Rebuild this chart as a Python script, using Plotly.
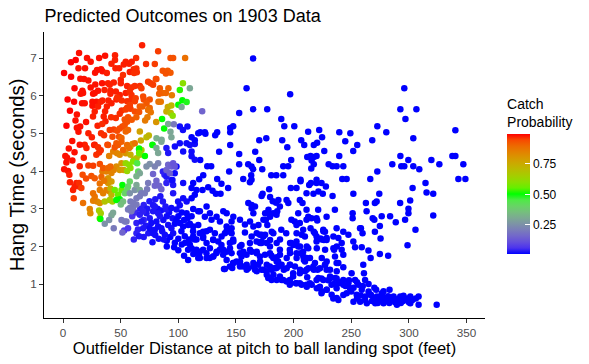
import plotly.graph_objects as go

# ---------------- data ----------------
# high catch-probability points (red / orange-red)
dist_red = [68.6,13.9,82.5,20.8,31.3,36.5,45.1,45.1,63.4,93.2,95.5,105.9,6.9,0.9,13.4,19.1,18.2,27.8,29.5,33,34.2,
            45.5,48.7,52.7,54.4,57.3,59.6,61.3,63.6,57.9,61.6,64.0,72,79.6,86.5,90.8,93.2,89.2,80.5,
            33.9,39,40.5,50.1,50.1,55.6,59.4,62.2,66.6,73.8,76.1,78.1,81,24,30.4,16.8,15.3,17.4,26.1,27.5,41.1,41.1,45.8,49.2,54.4,57.9,59.4,68,84,86.3,89.2,83.4,94.4,91.4,
            9.6,16.5,18.8,25.5,29,32.7,34.2,39.4,42,46.3,50.9,55.6,59.4,63,62.3,69.5,70,75.2,72.4,75.2,82.8,84.8,
            10.8,14.9,13.4,35.3,36.8,41.7,45.8,49.2,50.9,54.4,58.5,62.3,66,55.6,53.5,56.4,59.6,63.6,66.6,68.9,73.8,76.1,73.2,71.2,25.5,30.4,27.5,36.5,38,
            40.5,44,46.9,49.2,51.5,53.5,55.6,42.9,48.6,46.3,35.6,38.5,27.5,18.8,14.5,50.7,54.4,56.4,
            20.3,27,30.4,28.9,31.3,32.7,39.1,44.9,47.8,50.7,55.6,57.3,62.2,52.1,2.9,8.1,4.4,14.5,26.1,31.9,34.8,39.1,41.1,24.6,27.5,33.3,31.9,35.6,11.6,13.9,8.7,10.1,13.9,15.9,9.3,3.5,5.5]
hang_red = [7.34,7.13,7.18,7.0,7.0,7.06,7.07,6.95,7.0,7.0,7.0,7.0,6.89,6.6,6.73,6.73,6.44,6.61,6.68,6.7,6.65,
            6.73,6.73,6.83,6.9,6.85,6.9,6.7,6.72,6.63,6.6,6.62,6.84,6.84,6.66,6.66,6.61,6.59,6.44,
            6.33,6.33,6.29,6.42,6.33,6.26,6.22,6.26,6.26,6.37,6.33,6.29,6.44,6.22,6.13,6.13,6.05,6.07,6.05,6.07,6.13,6.05,6.11,6.02,6.07,6.11,6.02,6.2,6.2,6.07,6.07,6.05,6.01,6.2,
            5.84,5.80,5.80,5.84,5.84,5.84,5.87,5.87,5.80,5.90,5.87,5.85,5.90,5.93,5.85,5.98,5.90,5.90,5.79,5.67,5.84,5.84,
            5.34,5.18,5.04,5.45,5.32,5.43,5.41,5.52,5.61,5.63,5.65,5.58,5.57,5.68,5.37,5.43,5.36,5.43,5.71,5.71,5.62,5.56,5.43,5.34,5.73,5.71,5.58,5.59,5.71,
            5.09,5.1,5.07,5.13,5.18,5.22,5.31,4.91,4.91,4.74,4.95,4.70,4.70,4.70,4.70,4.88,5.05,5.09,
            4.61,4.69,4.63,4.43,4.49,4.55,4.69,4.63,4.69,4.78,4.69,4.61,4.74,4.56,4.23,4.28,4.0,4.13,4.14,4.19,4.08,4.08,4.12,3.87,3.81,3.84,3.67,3.74,3.68,3.59,3.50,3.59,3.68,3.55,3.28,4.35,3.9]
prob_red = [.97,.98,.95,.98,.98,.98,.97,.97,.96,.93,.93,.88,.99,.99,.98,.98,.98,.98,.98,.98,.98,
            .97,.97,.97,.97,.97,.97,.96,.96,.97,.96,.96,.96,.95,.93,.92,.92,.93,.94,
            .98,.97,.97,.97,.97,.97,.96,.96,.96,.95,.95,.95,.94,.98,.98,.98,.98,.98,.98,.98,.97,.97,.97,.97,.97,.96,.96,.95,.92,.9,.9,.91,.86,.9,
            .99,.98,.98,.98,.98,.97,.97,.97,.97,.97,.96,.96,.96,.95,.95,.94,.94,.93,.92,.9,.88,.87,
            .98,.98,.98,.97,.97,.96,.96,.96,.96,.95,.95,.94,.93,.95,.93,.93,.92,.91,.92,.91,.88,.87,.86,.86,.98,.97,.97,.97,.97,
            .95,.95,.94,.94,.94,.93,.93,.94,.93,.92,.96,.95,.97,.97,.98,.9,.9,.9,
            .97,.97,.96,.96,.96,.96,.94,.93,.92,.91,.89,.88,.87,.9,.98,.98,.98,.97,.95,.94,.92,.9,.9,.93,.92,.9,.88,.87,.97,.96,.97,.97,.96,.95,.95,.98,.97]

# extra red points filling the dense left cluster
dist_red_b = [2,5,8,3,6,12,20,22,25,30,33,10,7,22,24,38,42,10,18,22,20,6,17,1,4,11,15,28,36,44,52,47,58,12,26,34]
hang_red_b = [4.4,4.6,4.8,5.2,5.6,5.5,5.3,5.0,4.9,5.2,5.0,6.2,6.5,6.4,6.9,6.6,6.85,4.5,4.35,4.15,3.8,3.7,3.9,4.05,5.9,6.95,6.45,6.3,6.15,6.35,6.55,5.95,5.75,5.15,5.45,5.25]
prob_red_b = [.98,.98,.98,.99,.99,.98,.98,.97,.97,.97,.96,.99,.99,.98,.98,.97,.97,.98,.97,.95,.94,.97,.94,.98,.99,.99,.98,.98,.97,.97,.96,.96,.95,.98,.97,.96]

# transition points (orange / yellow / green / grey / purple)
dist_mid = [100.0,103.5,107.2,104,101.3,110,102.8,90.9,89.7,94,93.4,95.1,85.9,80.8,87.7,91.2,93.2,96.1,94,85.5,81.1,77.6,72.4,74.4,66.6,67.5,60.2,57.9,66,
            40,43.5,46.9,49.2,54.4,58.5,58.5,61.4,63.7,66.6,68,66,71,66,77.6,81,85.3,82.5,46.3,50.7,49.2,52.7,54.4,57.3,60.8,58.5,55.6,64.3,65.2,72.4,75.2,79.6,82.5,91.2,94,95.5,96.9,89.7,92.6,66.6,63.7,
            34.2,37.6,42,44,39.1,42,39.1,17.4,23.2,23.7,26.1,29.5,31.9,27.5,26.1,31.9,34.8,37.6,40.5,31.3,32.7,31.9,36.2,40.5,42.9,42,41.1,44.9,47.8,50.7,51.5,49.2,46.3,53.6,56.4,57.9,55.6,52.1,50.1,43.4,42,32.4,36.2,40,44,51.5,
            50.7,53.6,55,56.4,59.3,57.9,60.8,58.5,60.8,63.7,63.7,66.6,57.9,62.2,66.6,63.7,73.8,72.9,68,70.9,78.1,81,79.6,83.4,85.3,120.7]
hang_mid = [5.76,5.88,5.83,6.33,6.15,6.2,5.7,5.70,5.58,5.74,5.54,5.47,5.38,5.30,5.13,5.25,5.04,5.24,4.90,4.83,4.87,4.70,4.90,4.94,5.05,4.81,4.72,4.65,4.6,
            4.40,4.52,4.47,4.43,4.47,4.65,4.43,4.30,4.34,4.43,4.56,4.58,4.40,4.48,4.69,4.61,4.78,4.48,4.12,4.21,4.03,4.03,4.21,4.17,4.25,4.08,4.0,4.21,3.99,4.12,4.19,4.12,4.21,4.17,4.12,4.21,4.12,4.03,3.94,3.94,3.86,
            3.99,3.99,3.95,4.03,3.68,3.72,3.81,3.15,2.99,2.88,3.21,3.19,3.15,3.32,3.41,3.50,3.41,3.50,3.46,2.95,2.88,2.75,3.19,3.23,3.19,3.37,3.54,3.50,3.37,3.50,3.63,3.25,3.23,3.41,3.59,3.72,3.50,3.19,3.11,2.89,2.83,2.73,2.60,2.70,2.48,2.37,
            2.70,2.66,2.66,2.98,2.93,3.02,3.02,3.19,3.15,3.11,3.28,3.33,3.41,3.50,3.50,3.63,3.68,3.52,3.41,3.41,3.92,3.74,3.61,3.61,3.52,5.59]
prob_mid = [.5,.5,.48,.6,.52,.3,.3,.75,.74,.72,.7,.6,.5,.8,.5,.3,.3,.2,.3,.3,.32,.45,.7,.72,.77,.75,.82,.83,.5,
            .85,.85,.84,.83,.8,.78,.74,.72,.7,.66,.65,.5,.5,.55,.5,.3,.3,.3,.82,.8,.8,.78,.62,.6,.58,.6,.62,.45,.42,.25,.25,.22,.22,.15,.14,.12,.12,.15,.14,.3,.32,
            .86,.85,.84,.84,.8,.78,.8,.88,.84,.83,.85,.84,.82,.87,.88,.86,.85,.85,.84,.65,.65,.62,.68,.66,.64,.72,.72,.56,.55,.55,.5,.5,.5,.4,.4,.4,.4,.35,.35,.3,.3,.5,.25,.25,.2,.15,
            .2,.2,.2,.2,.2,.2,.2,.2,.2,.2,.2,.2,.25,.25,.3,.3,.2,.2,.2,.2,.15,.15,.15,.15,.15,.15]

# low catch-probability points (blue), left part
dist_blue_a = [89.7,91.2,97,101.3,107.2,110,114.3,104.2,111.5,111.5,114.3,84.4,86.6,88.9,89.7,94,95.5,95.5,94,89.7,88,86.6,89.7,94.9,96.9,98.4,
               104.2,112.9,111.5,115.8,114.3,99.8,104.2,107.2,111.5,98.4,101.3,107.2,112.9,117.3,111.5,79.6,78.1,82.5,84,72.4,75.2,69.5,66.6,
               76.6,81,75.2,79.6,82.5,85.3,78.1,63.7,68,69.5,63.7,61.4,66,56.4,53,
               91.2,94,98.4,101.3,104.2,108.5,112.9,117.3,95.5,102.7,105.6,112.9,115.8,109.4,88.3,87.4,77.6,96.4,108.5,108.5,117.3,111.5,114.3,
               101.3,104,107.9,111.5,114.3,117.3]
hang_blue_a = [4.61,4.48,4.65,4.74,4.74,4.69,4.72,4.52,4.52,4.39,4.30,3.33,3.19,3.06,2.98,3.02,3.41,3.63,3.76,3.68,3.90,3.99,3.85,3.76,3.94,4.12,
               3.68,3.68,3.55,3.50,3.37,3.19,3.28,3.19,3.28,2.98,3.09,2.88,2.99,2.93,2.80,3.06,2.93,2.88,2.80,2.88,2.75,2.93,2.84,
               2.62,2.66,2.48,2.44,2.53,2.48,2.35,2.62,2.66,2.48,2.35,2.18,2.27,2.48,2.42,
               2.57,2.48,2.70,2.62,2.53,2.57,2.53,2.57,2.35,2.40,2.27,2.27,2.18,2.18,2.31,2.18,2.11,1.98,1.91,1.64,1.69,1.95,1.86,
               5.18,5.09,5.18,4.9,4.82,5.0]
prob_blue_a = [.03,.03,.02,.02,.02,.02,.02,.02,.02,.02,.02,.03,.03,.03,.03,.02,.03,.03,.03,.04,.04,.04,.03,.02,.02,.02,
               .02,.01,.01,.01,.01,.02,.02,.02,.01,.02,.02,.01,.01,.01,.01,.03,.03,.03,.03,.03,.03,.04,.04,
               .02,.02,.02,.02,.02,.02,.02,.04,.03,.03,.04,.04,.03,.06,.06,
               .02,.02,.01,.01,.01,.01,.01,.01,.02,.01,.01,.01,.01,.01,.02,.02,.02,.01,.01,.01,.01,.01,.01,
               .02,.02,.02,.01,.01,.01]

# extra blue points, dense left area
dist_blue_e = [60,63,67,70,73,75,78,80,82,85,87,90,92,95,97,100,103,105,108,110,70,72,74,80,83,86,90,93,97,100,103,106,110,113,118,100,105,90,70,65]
hang_blue_e = [2.8,2.9,3.0,3.1,3.0,3.2,3.1,3.25,3.0,2.95,2.7,2.8,2.9,2.75,2.6,2.8,2.9,2.7,2.75,2.6,2.7,2.55,2.35,2.3,2.2,2.4,2.15,2.25,2.1,2.2,2.05,2.1,2.05,1.8,1.8,1.9,1.75,2.0,2.25,2.45]
prob_blue_e = [.06,.05,.04,.04,.03,.03,.03,.03,.02,.02,.02,.02,.02,.02,.01,.01,.01,.01,.01,.01,.04,.03,.03,.02,.02,.02,.01,.01,.01,.01,.01,.01,.01,.01,.01,.01,.01,.01,.03,.04]

# low catch-probability points (blue), upper right area
dist_blue_b = [164.9,159.2,197,152.8,164.9,177.1,189.3,191.9,200.6,145,147.6,145,119,123,123.5,133.7,132,145,152.8,152.8,135.4,119,125.1,128.5,121.6,133.7,144.1,
               160.6,163.5,164.9,163.2,156.3,166.7,170.2,172.8,170.2,176.3,180.6,185,191,191,195.3,197.9,194.5,190.1,206.6,209.2,212.6,222.2,220.4,217.5,224.7,
               211.8,214.7,217.5,219.9,215.6,217.5,215.3,226.6,230.4,233.8,237.3,239.6,243.1,239.6,249.2,244.8,255.2,251.7,206,219.9,242.2,246,266.5,
               272.6,280.4,268.2,272.6,285.6,292.6,296,306.5,297,292.6,293.4,296,299.5,303.8,309,303.8,319.5,326.4,337.7,340.3,340.3,347.2,342.9,349]
hang_blue_b = [6.99,6.20,6.04,5.54,5.64,5.64,5.38,5.19,5.19,5.14,5.19,5.03,5.03,5.03,4.99,5.03,4.95,4.69,4.45,4.18,4.51,4.29,4.13,4.13,3.89,3.79,3.99,
               4.18,4.12,4.05,3.89,3.79,4.51,4.29,4.05,4.82,4.87,3.89,3.89,3.89,4.13,4.13,4.29,4.63,4.82,4.82,4.69,5.04,5.09,4.75,4.69,4.90,
               4.37,4.40,4.37,4.40,4.28,4.18,4.07,4.53,4.18,4.13,4.13,4.40,4.13,5.03,5.0,4.79,4.69,4.53,3.77,3.77,3.79,3.79,3.79,
               5.19,5.03,4.82,3.99,4.18,5.64,6.20,5.64,5.38,4.40,4.13,4.13,4.29,4.13,4.05,4.87,4.29,4.18,4.40,4.40,5.08,4.18,3.79,3.79]
prob_blue_b = [.01] * len(dist_blue_b)

# low catch-probability points (blue), lower band
dist_blue_c = [118.1,125.9,129.7,132.6,136.6,121,137.4,143.2,162.1,163.5,
               178.8,172.2,173.1,179.6,181.9,184.8,186.8,197.6,202.5,206,211.2,213.5,215,219.9,224.2,217.2,221.5,225.3,228,233.8,251.8,
               274.3,270.5,272,263.3,262.7,276.4,283.7,288.6,292.4,296.7,301.1,299.6,299.6,303.2,314.4,315.3,321.1,321.1,305.7,298.8,
               251.2,251.2,258.4,259.8,270.5,274.8,268.6,270,275.4,274.8,282,266.8,243.1,247.5,251.8,257.6,253.3,259.1,264.9,243.1,250.3,260.4,261,
               235.8,228.6,221.3,220.5,237.3,241.7,241.7,235.1,243.1,237.3,227.2,228.6,220.8,225.7,227.2,223.4,228.6,226.3,219.9,
               211.2,212.7,211.2,215.5,219.9,208.3,209.8,214.7,219.9,217.5,205.4,207.7,204,202.5,205.4,201,198.1,
               193.9,195.4,188.1,185.8,182.3,185.2,179.4,176,177.2,181,172.3,172.3,
               189.3,193.6,198,202.5,204,196.7,202.5,208.3,212.7,211.2,208.9,206,188.1,185.2,180.8,186.6,179.4,185.2,191.5,196.7,199.6,
               205.4,211.2,217.5,211.8,214.1,219.9,222.8,224.2,228.6,232.9,237.3,243.1,246,238.8,234.4,
               224.2,231.5,237.3,243.1,247.5,253.3,256.2,259.1,262,254.7,262,266.4,269.3,272.2,276.5,280.9,286.7,292.5,298.3,301.2,308.4,308.4,301.2,289.6,278,270.8,263.5,257.7,251.9,
               271.6,278,283.2,295.3,324.1,243.1,248.9,
               118.7,124.5,127.4,123,128.8,133.2,136.1,139,141.9,147.7,146.2,153.5,157.8,162.2,165.1,163.6,160.7,163.6,166.5,
               121.5,127.4,121.5,124.5,130.3,134.6,137.5,140.4,144.8,141.9,146.2,
               121.5,127.4,133.2,139,144.8,147.7,153.5,156.4,162.2,168,170.9,176.7,179.6,175.3,168,169.5,165.1,173.8,179.6,175.3,178.2,
               118.7,124.5,130.3,141.9,147.7,153.5,159.3,165.1,170.9,176.7,184,
               139.6,146.8,153.5,159.3,166.5,168,173.8,176.7,182.5,179.6,188.1,191,196.7,199.6,205.4,211.2,201.9,196.7]
hang_blue_c = [3.78,3.57,3.48,3.40,3.40,3.50,3.66,3.55,3.70,3.77,
               3.52,3.34,3.40,3.31,3.20,3.16,3.23,3.55,3.55,3.73,3.41,3.63,3.68,3.68,3.68,3.40,3.46,3.40,3.59,3.34,3.40,
               3.40,3.15,3.19,2.93,3.15,2.80,2.80,2.64,3.15,2.71,3.22,3.0,2.88,3.55,3.68,3.43,3.40,2.82,2.44,2.03,
               2.88,2.75,2.48,2.35,2.39,2.54,2.75,2.71,2.21,1.80,1.75,1.69,2.39,2.31,2.13,2.48,1.98,1.98,1.89,1.45,1.29,1.51,1.29,
               2.97,2.79,2.97,2.69,2.48,2.09,1.91,1.91,1.78,1.56,1.51,1.38,1.38,2.44,2.39,2.21,2.17,2.17,2.13,
               2.97,2.79,2.71,2.75,2.75,2.44,2.26,2.48,2.26,2.39,3.23,3.15,2.88,2.57,2.62,2.66,2.71,
               3.23,3.15,3.06,2.93,2.88,2.84,2.84,2.71,2.57,2.39,2.31,2.13,
               2.44,2.35,2.09,2.13,2.00,1.91,1.82,1.86,1.95,1.69,1.64,1.82,1.91,1.71,1.75,1.60,1.47,1.43,1.38,1.51,1.29,
               1.29,1.38,1.38,1.18,1.02,1.11,0.93,0.76,0.85,0.98,0.89,0.71,0.76,0.58,0.62,
               1.15,1.15,1.15,1.11,1.02,1.11,0.98,0.85,1.11,0.72,0.67,0.72,0.58,0.67,0.76,0.62,0.67,0.67,0.62,0.67,0.67,0.45,0.49,0.45,0.49,0.49,0.49,0.53,0.53,
               0.85,0.81,0.85,0.69,0.45,0.98,0.89,
               2.93,3.06,2.88,2.79,2.71,2.79,2.66,2.93,2.88,2.79,2.66,2.71,2.58,2.66,2.88,3.01,3.15,3.10,3.06,
               2.39,2.44,2.26,2.09,2.17,2.13,2.26,2.35,2.39,2.53,2.48,
               1.91,1.95,1.86,1.91,1.95,2.13,2.00,1.86,1.91,1.86,2.09,2.09,2.17,2.31,2.35,2.57,2.53,2.71,2.79,2.88,2.97,
               1.69,1.69,1.73,1.64,1.56,1.60,1.51,1.56,1.60,1.51,1.43,
               1.40,1.43,1.47,1.38,1.38,1.34,1.38,1.25,1.25,1.16,1.20,1.11,1.11,1.20,1.02,0.98,1.02,0.98]
prob_blue_c = [.01] * len(dist_blue_c)

# extra blue points, dense lower band
dist_blue_d = [112.8,118.6,124.4,131.7,141.8,146.2,157.8,163.6,170.8,173.7,182.4,188.2,202.6,207,218.5,225.8,228.7,234.5,238.8,
               114.2,121.5,130.2,137.4,144.7,147.6,154.8,162.1,167.9,172.2,179.5,185.3,196.9,199.8,205.6,211.4,220.1,224.4,227.3,234.5,237.4,
               115.7,118.6,124.4,127.3,130.2,133.1,136,138.9,141.8,146.2,153.4,154.8,159.2,163.6,167.9,170.8,175.2,179.5,182.4,185.3,188.2,194,196.9,202.6,208.4,209.9,214.2,218.5,224.4,228.7,235.9,238.8,
               140.4,144.7,147.6,150.5,153.4,156.3,160.6,165,169.3,172.2,176.6,180.9,183.8,186.7,189.6,194,196.9,201.2,205.6,209.9,212.8,217.1,222.9,227.3,231.6,237.4,
               178,180.9,185.3,189.6,194,196.9,202.6,207,211.4,215.7,220.1,224.4,228.7,233,237.4,221.4,225.8,231.6,235.9,238.8,
               250,255,258,262,265,268,270,273,275,278,280,283,285,288,290,293,295,300,303,306,260,265,255,248,252,270,245,240,235,230,267,277,282]
hang_blue_d = [2.40,2.35,2.40,2.35,2.40,2.35,2.37,2.26,2.31,2.26,2.35,2.18,2.35,2.31,2.35,2.40,2.22,2.26,2.22,
               2.18,2.22,2.18,2.04,2.09,2.18,2.04,2.09,2.13,2.09,2.0,2.09,2.09,2.04,2.0,2.0,1.95,2.18,1.91,1.95,2.0,
               1.91,1.86,1.82,1.69,1.73,1.82,1.91,1.78,1.86,1.82,1.82,1.73,1.78,1.86,1.82,1.73,1.78,1.82,1.69,1.60,1.78,1.69,1.82,1.69,1.73,1.60,1.69,1.56,1.69,1.60,1.73,1.56,
               1.40,1.47,1.56,1.60,1.51,1.47,1.42,1.47,1.51,1.38,1.34,1.38,1.42,1.47,1.51,1.42,1.51,1.47,1.38,1.34,1.42,1.47,1.42,1.51,1.38,1.34,
               1.16,1.11,1.11,1.11,1.07,1.02,1.02,0.98,0.93,0.98,0.89,0.80,0.85,0.72,0.63,1.16,1.11,1.20,1.16,1.02,
               0.8,0.62,0.7,0.58,0.8,0.55,0.62,0.5,0.58,0.62,0.55,0.5,0.58,0.52,0.6,0.5,0.55,0.52,0.58,0.62,0.95,1.0,1.05,1.1,0.9,0.9,0.95,1.05,1.0,1.1,0.72,0.72,0.68]
prob_blue_d = [.01] * len(dist_blue_d)

color_range = [0.01, 0.99]
cbar_ticks = [0.25, 0.50, 0.75]
cbar_labels = ["0.25", "0.50", "0.75"]
x_ticks = [0, 50, 100, 150, 200, 250, 300, 350]
y_ticks = [1, 2, 3, 4, 5, 6, 7]

dist = dist_blue_d + dist_blue_c + dist_blue_b + dist_blue_e + dist_blue_a + dist_mid + dist_red + dist_red_b
hang = hang_blue_d + hang_blue_c + hang_blue_b + hang_blue_e + hang_blue_a + hang_mid + hang_red + hang_red_b
prob = prob_blue_d + prob_blue_c + prob_blue_b + prob_blue_e + prob_blue_a + prob_mid + prob_red + prob_red_b


# ---------------- colour scale: blue -> green -> red interpolated in CIELAB ----------------
def _to_lin(c):
    c = c / 255.0
    return c / 12.92 if c <= 0.04045 else ((c + 0.055) / 1.055) ** 2.4


def _from_lin(c):
    v = 12.92 * c if c <= 0.0031308 else 1.055 * c ** (1 / 2.4) - 0.055
    return max(0, min(255, round(v * 255)))


WHITE = (0.95047, 1.0, 1.08883)


def rgb2lab(rgb):
    r, g, b = [_to_lin(v) for v in rgb]
    X = 0.4124 * r + 0.3576 * g + 0.1805 * b
    Y = 0.2126 * r + 0.7152 * g + 0.0722 * b
    Z = 0.0193 * r + 0.1192 * g + 0.9505 * b

    def f(t):
        return t ** (1 / 3) if t > 0.008856 else 7.787 * t + 16 / 116
    fx, fy, fz = f(X / WHITE[0]), f(Y / WHITE[1]), f(Z / WHITE[2])
    return (116 * fy - 16, 500 * (fx - fy), 200 * (fy - fz))


def lab2rgb(lab):
    L, a, bb = lab
    fy = (L + 16) / 116
    fx = fy + a / 500
    fz = fy - bb / 200

    def finv(t):
        return t ** 3 if t ** 3 > 0.008856 else (t - 16 / 116) / 7.787
    X, Y, Z = finv(fx) * WHITE[0], finv(fy) * WHITE[1], finv(fz) * WHITE[2]
    r = 3.2406 * X - 1.5372 * Y - 0.4986 * Z
    g = -0.9689 * X + 1.8758 * Y + 0.0415 * Z
    b = 0.0557 * X - 0.2040 * Y + 1.0570 * Z
    return tuple(_from_lin(max(0.0, v)) for v in (r, g, b))


anchors = [(0, 0, 255), (0, 255, 0), (255, 0, 0)]
labs = [rgb2lab(c) for c in anchors]
colorscale = []
N = 20
for i in range(N + 1):
    t = i / N
    seg = min(int(t * 2), 1)
    u = t * 2 - seg
    l0, l1 = labs[seg], labs[seg + 1]
    lab = tuple(l0[k] + (l1[k] - l0[k]) * u for k in range(3))
    r, g, b = lab2rgb(lab)
    colorscale.append([t, f"rgb({r},{g},{b})"])

FONT = "Liberation Sans, Arial, sans-serif"

fig = go.Figure()
fig.add_trace(go.Scatter(
    x=dist, y=hang, mode="markers",
    marker=dict(
        size=6.5, color=prob, colorscale=colorscale,
        cmin=color_range[0], cmax=color_range[1],
        line=dict(width=0),
        colorbar=dict(
            title=dict(text="Catch<br>Probability", side="top",
                       font=dict(family=FONT, size=14, color="black")),
            tickvals=cbar_ticks, ticktext=cbar_labels,
            tickfont=dict(family=FONT, size=12, color="black"),
            ticks="inside", ticklen=5, tickcolor="white", tickwidth=1,
            thickness=23, lenmode="pixels", len=159,
            x=1.05, xanchor="left", xpad=0,
            y=0.501, yanchor="middle", ypad=0,
            outlinewidth=0,
        ),
    ),
    hoverinfo="skip", showlegend=False,
))

fig.update_layout(
    width=589, height=364,
    margin=dict(l=44, r=104, t=32, b=46, autoexpand=False),
    paper_bgcolor="white", plot_bgcolor="white",
    font=dict(family=FONT),
    title=dict(text="Predicted Outcomes on 1903 Data", x=44.5 / 589, xanchor="left",
               y=1 - 16 / 364, yanchor="middle", yref="container",
               font=dict(family=FONT, size=18, color="black")),
    xaxis=dict(
        range=[-16.5, 366], tickvals=x_ticks, showgrid=False, zeroline=False,
        showline=True, linecolor="black", linewidth=1, automargin=False,
        ticks="outside", ticklen=4, tickcolor="#333333",
        tickfont=dict(family=FONT, size=11.7, color="#4d4d4d"),
        title=dict(text="Outfielder Distance at pitch to ball landing spot (feet)",
                   font=dict(family=FONT, size=16.5, color="black"), standoff=2),
    ),
    yaxis=dict(
        range=[0.1, 7.69], tickvals=y_ticks, showgrid=False, zeroline=False,
        showline=True, linecolor="black", linewidth=1, automargin=False,
        ticks="outside", ticklen=4, tickcolor="#333333",
        tickfont=dict(family=FONT, size=11.7, color="#4d4d4d"),
        title=dict(text="Hang Time (seconds)",
                   font=dict(family=FONT, size=20.3, color="black"), standoff=0),
    ),
)

fig.write_html("out.html", config={"displayModeBar": False},
               post_script="document.body.style.margin='0';")
